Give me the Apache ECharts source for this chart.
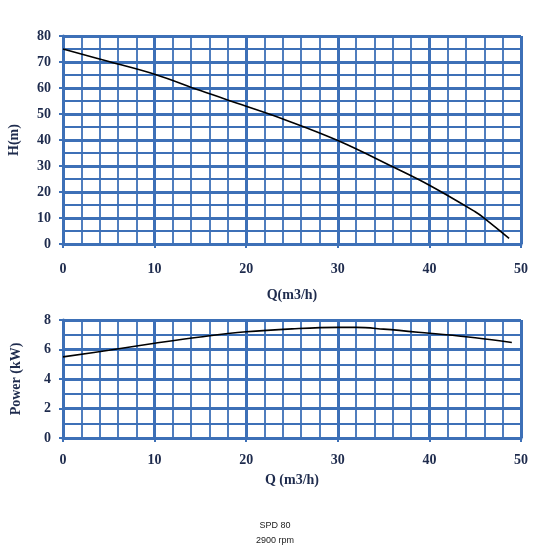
<!DOCTYPE html>
<html>
<head>
<meta charset="utf-8">
<script src="https://cdn.jsdelivr.net/npm/echarts@6/dist/echarts.min.js"></script>
<style>html,body{margin:0;padding:0;background:#fff;}#c{width:550px;height:550px;}</style>
</head>
<body>
<div id="c"></div>
<script>
// Head curve H(m) vs Q(m3/h)
const headQ = [0, 5, 10, 15, 20, 24, 30, 36, 40, 45, 46, 48.7];
const headH = [75, 70.2, 65.3, 59, 53, 48.1, 39.8, 29.7, 22.6, 12.4, 9.9, 2.2];
// Power curve P(kW) vs Q(m3/h)
const powQ = [0, 5, 10, 15, 20, 25, 30, 32, 35, 40, 45, 49];
const powP = [5.5, 5.95, 6.42, 6.85, 7.2, 7.4, 7.5, 7.5, 7.38, 7.1, 6.8, 6.47];
const titleLines = ['SPD 80', '2900 rpm'];

const BLUE = '#3d70b7';
const NAVY = '#1e2b4d';
const labelFont = {fontFamily: 'Liberation Serif', fontWeight: 'bold', fontSize: 14, color: NAVY};
const nameFont = {fontFamily: 'Liberation Serif', fontWeight: 'bold', fontSize: 14, color: NAVY};

function xAxis(gridIndex, name, margin, gap) {
  return {
    type: 'value', gridIndex, min: 0, max: 50, interval: 10,
    name, nameLocation: 'middle', nameGap: gap, nameTextStyle: nameFont,
    axisLine: {show: true, lineStyle: {color: BLUE, width: 3}},
    axisTick: {show: true, length: 4, lineStyle: {color: BLUE, width: 2}},
    axisLabel: Object.assign({margin}, labelFont),
    splitLine: {show: true, lineStyle: {color: BLUE, width: 3}},
    minorTick: {show: false, splitNumber: 5},
    minorSplitLine: {show: true, lineStyle: {color: BLUE, width: 1.8}}
  };
}
function yAxis(gridIndex, name, max, interval, minorSplit, gap) {
  return {
    type: 'value', gridIndex, min: 0, max, interval,
    name, nameLocation: 'middle', nameGap: gap, nameTextStyle: nameFont,
    axisLine: {show: true, lineStyle: {color: BLUE, width: 3}},
    axisTick: {show: true, length: 4, lineStyle: {color: BLUE, width: 2}},
    axisLabel: Object.assign({margin: 12}, labelFont),
    splitLine: {show: true, lineStyle: {color: BLUE, width: 3}},
    minorTick: {show: false, splitNumber: minorSplit},
    minorSplitLine: {show: true, lineStyle: {color: BLUE, width: 1.8}}
  };
}

const chart = echarts.init(document.getElementById('c'));
chart.setOption({
  animation: false,
  backgroundColor: '#fff',
  title: [
    {text: titleLines[0], left: 'center', top: 516, textStyle: {fontFamily: 'Liberation Sans', fontSize: 9, fontWeight: 'normal', color: '#222'}},
    {text: titleLines[1], left: 'center', top: 531, textStyle: {fontFamily: 'Liberation Sans', fontSize: 9, fontWeight: 'normal', color: '#222'}}
  ],
  grid: [
    {left: 63, top: 36, width: 458, height: 208, containLabel: false, outerBoundsMode: 'none'},
    {left: 63, top: 320, width: 458, height: 118, containLabel: false, outerBoundsMode: 'none'}
  ],
  xAxis: [
    xAxis(0, 'Q(m3/h)', 18, 44),
    xAxis(1, 'Q (m3/h)', 15, 35)
  ],
  yAxis: [
    yAxis(0, 'H(m)', 80, 10, 2, 42),
    yAxis(1, 'Power (kW)', 8, 2, 2, 40)
  ],
  series: [
    {type: 'line', xAxisIndex: 0, yAxisIndex: 0, smooth: 0.4, symbol: 'none',
     lineStyle: {color: '#000', width: 1.6},
     data: headQ.map((q, i) => [q, headH[i]])},
    {type: 'line', xAxisIndex: 1, yAxisIndex: 1, smooth: 0.4, symbol: 'none',
     lineStyle: {color: '#000', width: 1.6},
     data: powQ.map((q, i) => [q, powP[i]])}
  ]
});
</script>
</body>
</html>
